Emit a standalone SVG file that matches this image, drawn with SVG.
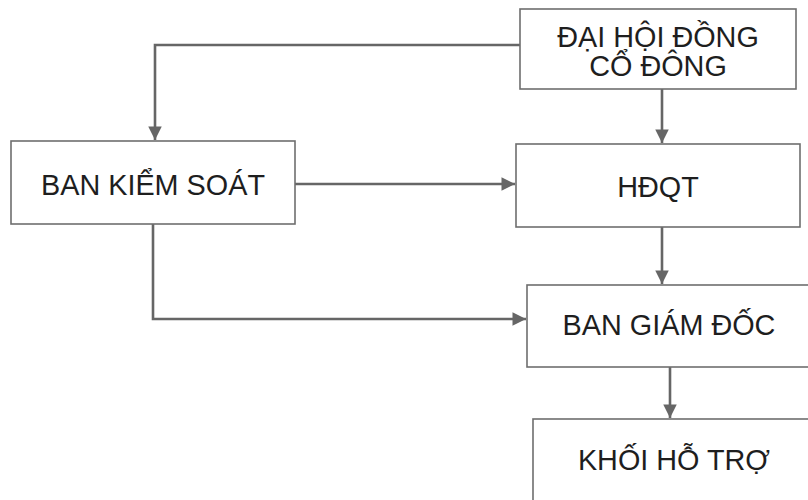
<svg xmlns="http://www.w3.org/2000/svg" width="808" height="500" viewBox="0 0 808 500">
<style>
.box{fill:#fff;stroke:#6e6e6e;stroke-width:1.6}
.lbl{font-family:"Liberation Sans",Arial,sans-serif;font-size:28.8px;fill:#1e1e1e;text-anchor:middle}
.con{fill:none;stroke:#666;stroke-width:2.6;marker-end:url(#ah)}
</style>
<defs>
<marker id="ah" viewBox="0 0 10 10" refX="10" refY="5" markerWidth="5.2" markerHeight="5.2" orient="auto" markerUnits="strokeWidth">
<path d="M0,0 L10,5 L0,10 Z" fill="#666"/>
</marker>
</defs>
<rect width="808" height="500" fill="#fff"/>
<g id="connectors">
<path class="con" d="M520,45 H155 V140"/>
<path class="con" d="M662,89 V143"/>
<path class="con" d="M295,184 H515"/>
<path class="con" d="M662,227 V284"/>
<path class="con" d="M153,224 V319 H526"/>
<path class="con" d="M670,367 V418"/>
</g>
<g id="dhdcd">
<rect class="box" x="520" y="9" width="276" height="80"/>
<text class="lbl" x="658" y="47">ĐẠI HỘI ĐỒNG</text>
<text class="lbl" x="658" y="76">CỔ ĐÔNG</text>
</g>
<g id="bks">
<rect class="box" x="11" y="141" width="284" height="83"/>
<text class="lbl" x="153" y="195">BAN KIỂM SOÁT</text>
</g>
<g id="hdqt">
<rect class="box" x="516" y="144" width="284" height="83"/>
<text class="lbl" x="658" y="197">HĐQT</text>
</g>
<g id="bgd">
<rect class="box" x="527" y="285" width="290" height="82"/>
<text class="lbl" x="669" y="335">BAN GIÁM ĐỐC</text>
</g>
<g id="khoi">
<rect class="box" x="533" y="419" width="290" height="90"/>
<text class="lbl" x="674" y="470">KHỐI HỖ TRỢ</text>
</g>
</svg>
